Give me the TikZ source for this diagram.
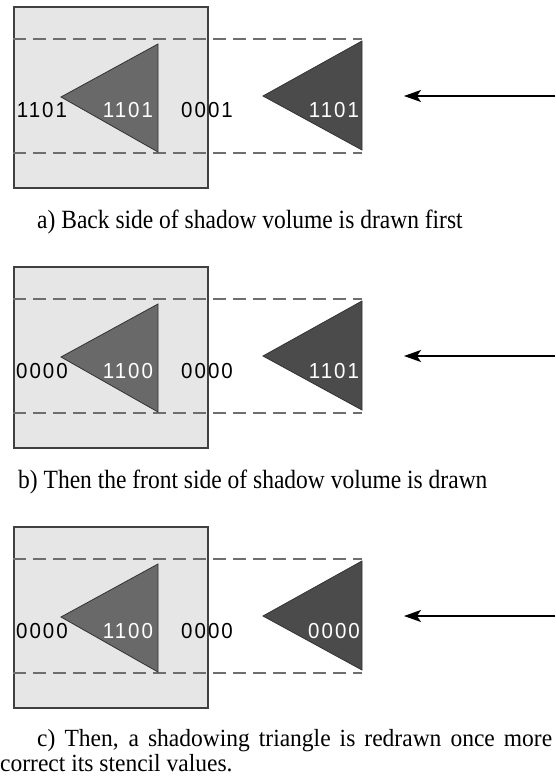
\documentclass[tikz,border=0pt]{standalone}
\usepackage{fontspec}
\usepackage{graphicx}
\setmainfont{Liberation Serif}
\newfontfamily\labfont[LetterSpace=10]{Liberation Sans}
\usetikzlibrary{arrows.meta}
\definecolor{boxfill}{HTML}{E6E6E6}
\definecolor{boxline}{HTML}{404040}
\definecolor{dashcol}{HTML}{6E6E6E}
\definecolor{trione}{HTML}{696969}
\definecolor{tritwo}{HTML}{4B4B4B}
\newcommand{\tallcap}[1]{\scalebox{1}[1.12]{#1}}
\newcommand{\shortcap}[1]{\scalebox{1}[1.05]{#1}}
\newcommand{\talllab}[1]{\scalebox{1}[1.06]{#1}}
\tikzset{
  x=1pt, y=-1pt,
  volbox/.style={draw=boxline, fill=boxfill, line width=1.8pt},
  vollines/.style={draw=dashcol, line width=1.4pt, dash pattern=on 13pt off 7pt},
  tri/.style={draw=black!80, line width=0.8pt},
  lab/.style={font=\labfont\fontsize{20.5}{22}\selectfont, inner sep=0pt, anchor=base},
  wlab/.style={lab, text=white},
  caption/.style={font=\fontsize{23.5}{25}\selectfont, inner sep=0pt, anchor=base west},
  lightarrow/.style={-{Stealth[length=17pt,width=12pt,inset=4pt]}, line width=1.6pt, black},
}
\newcommand{\panel}[6]{%
  \begin{scope}[yshift=-#1pt]
    \node[volbox, minimum width=194pt, minimum height=181pt, inner sep=0pt, anchor=north west] (box#2) at (13,6) {};
    \coordinate (ul#2) at (13,39);
    \coordinate (ur#2) at (362,39);
    \coordinate (ll#2) at (13,153);
    \coordinate (lr#2) at (362,153);
    \draw[vollines] (ul#2) -- (ur#2);
    \draw[vollines] (ll#2) -- (lr#2);
    \coordinate (t1a#2) at (61,97);
    \coordinate (t1b#2) at (158,44);
    \coordinate (t1c#2) at (158,152);
    \fill[trione] (t1a#2) -- (t1b#2) -- (t1c#2) -- cycle;
    \draw[tri] (t1a#2) -- (t1b#2) -- (t1c#2) -- cycle;
    \coordinate (t2a#2) at (263,96);
    \coordinate (t2b#2) at (362,41);
    \coordinate (t2c#2) at (362,150);
    \fill[tritwo] (t2a#2) -- (t2b#2) -- (t2c#2) -- cycle;
    \draw[tri] (t2a#2) -- (t2b#2) -- (t2c#2) -- cycle;
    \node[lab] (la#2) at (42,118) {\talllab{#3}};
    \node[wlab] (lb#2) at (128,118) {\talllab{#4}};
    \node[lab] (lc#2) at (207,118) {\talllab{#5}};
    \node[wlab] (ld#2) at (334,118) {\talllab{#6}};
    \coordinate (as#2) at (555,96);
    \coordinate (ae#2) at (404,96);
    \draw[lightarrow] (as#2) -- (ae#2);
  \end{scope}}
\begin{document}
\begin{tikzpicture}
\useasboundingbox (0,0) rectangle (556,778);
\panel{0}{a}{1101}{1101}{0001}{1101}
\panel{260}{b}{0000}{1100}{0000}{1101}
\panel{520}{c}{0000}{1100}{0000}{0000}
\node[caption] (capa) at (37,228) {\tallcap{a) Back side of shadow volume is drawn first}};
\node[caption] (capb) at (18,488) {\tallcap{b) Then the front side of shadow volume is drawn}};
\node[caption] (capc1) at (37,746) {\shortcap{\makebox[515pt][s]{c) Then, a shadowing triangle is redrawn once more}}};
\node[caption] (capc2) at (0,771.5) {\shortcap{correct its stencil values.}};
\end{tikzpicture}
\end{document}
